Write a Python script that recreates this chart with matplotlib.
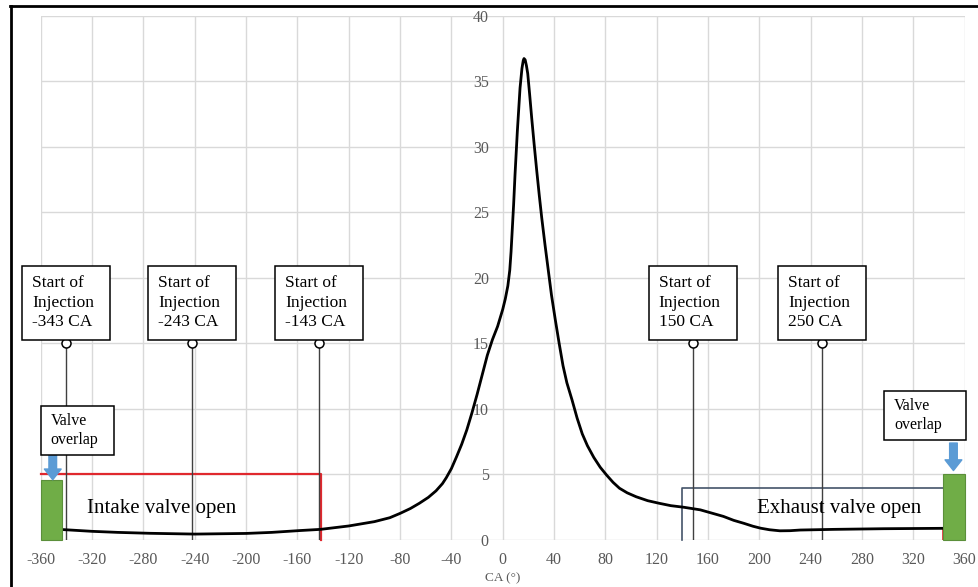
import numpy as np
import matplotlib.pyplot as plt
from matplotlib.patches import Rectangle
from matplotlib.lines import Line2D

plt.rcParams['font.family'] = ['Liberation Serif', 'DejaVu Serif']
plt.rcParams['axes.unicode_minus'] = False

# 压力曲线
ca = [-344, -320, -300, -275, -240, -200, -180, -158, -142, -120, -100, -88,
      -80, -72, -65, -58, -52, -47, -44, -40, -36, -32, -28, -24, -20, -16,
      -12, -8, -4, 0, 2, 4, 5.5, 6.5, 7.5, 8.5, 9.6, 11.4, 13.5, 15, 16,
      16.6, 17.5, 18.5, 19.5, 21, 22.6, 24.5, 26.5, 28.5, 30.4, 33, 35.5,
      38, 41, 44, 47, 50, 54, 58, 62, 66, 71, 76, 81, 86, 91, 97, 104, 113,
      122, 131, 141, 154, 163, 172, 180, 188, 195, 201, 208, 216, 224, 232,
      258, 297, 343]
pressure = [0.80, 0.66, 0.58, 0.51, 0.45, 0.50, 0.58, 0.72, 0.81, 1.07, 1.40,
            1.7, 2.03, 2.4, 2.8, 3.25, 3.75, 4.3, 4.75, 5.45, 6.35, 7.3, 8.4,
            9.7, 11.1, 12.6, 14.1, 15.3, 16.3, 17.6, 18.4, 19.4, 20.6, 22.0,
            23.8, 25.6, 27.9, 31.2, 34.5, 36.0, 36.6, 36.75, 36.65, 36.2,
            35.6, 34.0, 32.2, 30.2, 28.2, 26.3, 24.6, 22.5, 20.6, 18.7, 16.8,
            15.0, 13.3, 12.0, 10.7, 9.3, 8.1, 7.2, 6.3, 5.55, 4.95, 4.4, 3.95,
            3.6, 3.3, 3.0, 2.8, 2.62, 2.5, 2.3, 2.05, 1.8, 1.5, 1.27, 1.05,
            0.9, 0.78, 0.7, 0.71, 0.76, 0.81, 0.86, 0.89]

# 喷油时刻
soi_labels = [-343, -243, -143, 150, 250]
soi_pos = [-340, -242, -143, 148, 249]
soi_level = 15

# 气门开启区间
intake_x = [-360, -141.5, -141.5]
intake_y = [5, 5, 0]
exhaust_x = [140, 140, 343]
exhaust_y = [0, 4, 4]

# 气门重叠
overlap_left = [-360, -343.7]
overlap_right = [343.4, 360.6]
overlap_height = [4.6, 5.0]

grey = '#595959'

fig = plt.figure(figsize=(9.79, 5.87), dpi=100)
ax = fig.add_axes([0.0417, 0.0801, 0.9436, 0.8927])

ax.set_xlim(-360, 360)
ax.set_ylim(0, 40)
ax.set_xticks(np.arange(-360, 361, 40))
ax.set_yticks(np.arange(0, 41, 5))
ax.grid(True, color='#d9d9d9', lw=1, zorder=0)
ax.set_axisbelow(True)
for s in ax.spines.values():
    s.set_visible(False)
ax.spines['left'].set_position(('data', 0))
ax.tick_params(axis='both', length=0, labelcolor=grey, labelsize=11.5)
ax.tick_params(axis='x', pad=9)
ax.tick_params(axis='y', pad=10)
ax.set_xlabel('CA (°)', fontsize=9.5, color=grey, labelpad=3)

# 曲线
ax.plot(ca, pressure, color='black', lw=2, zorder=4, solid_joinstyle='round')

# 进排气门
ax.plot(intake_x, intake_y, color='#e0282e', lw=1.6, zorder=3, clip_on=False)
ax.plot(exhaust_x, exhaust_y, color='#44546a', lw=1.2, zorder=3, clip_on=False)
ax.plot([343, 343], [0, 0.9], color='#e0282e', lw=1.2, zorder=3)
ax.text(-324, 2.4, 'Intake valve open', fontsize=15, va='center', ha='left', zorder=5)
ax.text(198, 2.4, 'Exhaust valve open', fontsize=15, va='center', ha='left', zorder=5)

# 气门重叠柱
for (x0, x1), h in zip([overlap_left, overlap_right], overlap_height):
    ax.bar(x0, h, width=x1 - x0, align='edge', color='#70ad47',
           edgecolor='#5b8f3a', lw=0.8, zorder=5, clip_on=False)

# 蓝色箭头
arrow_x = [-350.7, 351.3]
arrow_from = [6.5, 7.4]
arrow_to = [4.6, 5.3]
for x, y0, y1 in zip(arrow_x, arrow_from, arrow_to):
    ax.annotate('', xy=(x, y1), xytext=(x, y0),
                arrowprops=dict(arrowstyle='simple,head_width=1.1,head_length=0.7,tail_width=0.5',
                                color='#5b9bd5', mutation_scale=11, shrinkA=0, shrinkB=0),
                zorder=6)

# 气门重叠文本框
vo_boxes = [(-360, 6.49, 57.3, 3.76), (297.4, 7.63, 63.4, 3.74)]
for bx, by, bw, bh in vo_boxes:
    ax.add_patch(Rectangle((bx, by), bw, bh, facecolor='white', edgecolor='black',
                           lw=1.1, zorder=6, clip_on=False))
    ax.text(bx + 7.8, by + bh / 2, 'Valve\noverlap', fontsize=11.5,
            va='center', ha='left', zorder=7, linespacing=1.3, clip_on=False)

# 喷油标注
box_w = 68.6
box_h = 5.65
for lab, x in zip(soi_labels, soi_pos):
    ax.plot([x, x], [0, soi_level], color='#404040', lw=1, zorder=3)
    ax.plot(x, soi_level, 'o', ms=6.5, mfc='white', mec='black', mew=1.1, zorder=6)
    bx = x - box_w / 2
    by = soi_level + 0.3
    ax.add_patch(Rectangle((bx, by), box_w, box_h, facecolor='white', edgecolor='black',
                           lw=1.1, zorder=6, clip_on=False))
    ax.text(bx + 7.8, by + box_h / 2, f'Start of\nInjection\n{lab} CA', fontsize=12.5,
            va='center', ha='left', zorder=7, linespacing=1.28, clip_on=False)

# 外框
fig.add_artist(Line2D([10 / 979, 1], [1 - 6 / 587, 1 - 6 / 587], color='black', lw=2))
fig.add_artist(Line2D([11 / 979, 11 / 979], [0, 1 - 6 / 587], color='black', lw=2))

fig.savefig('out.png', dpi=100)
